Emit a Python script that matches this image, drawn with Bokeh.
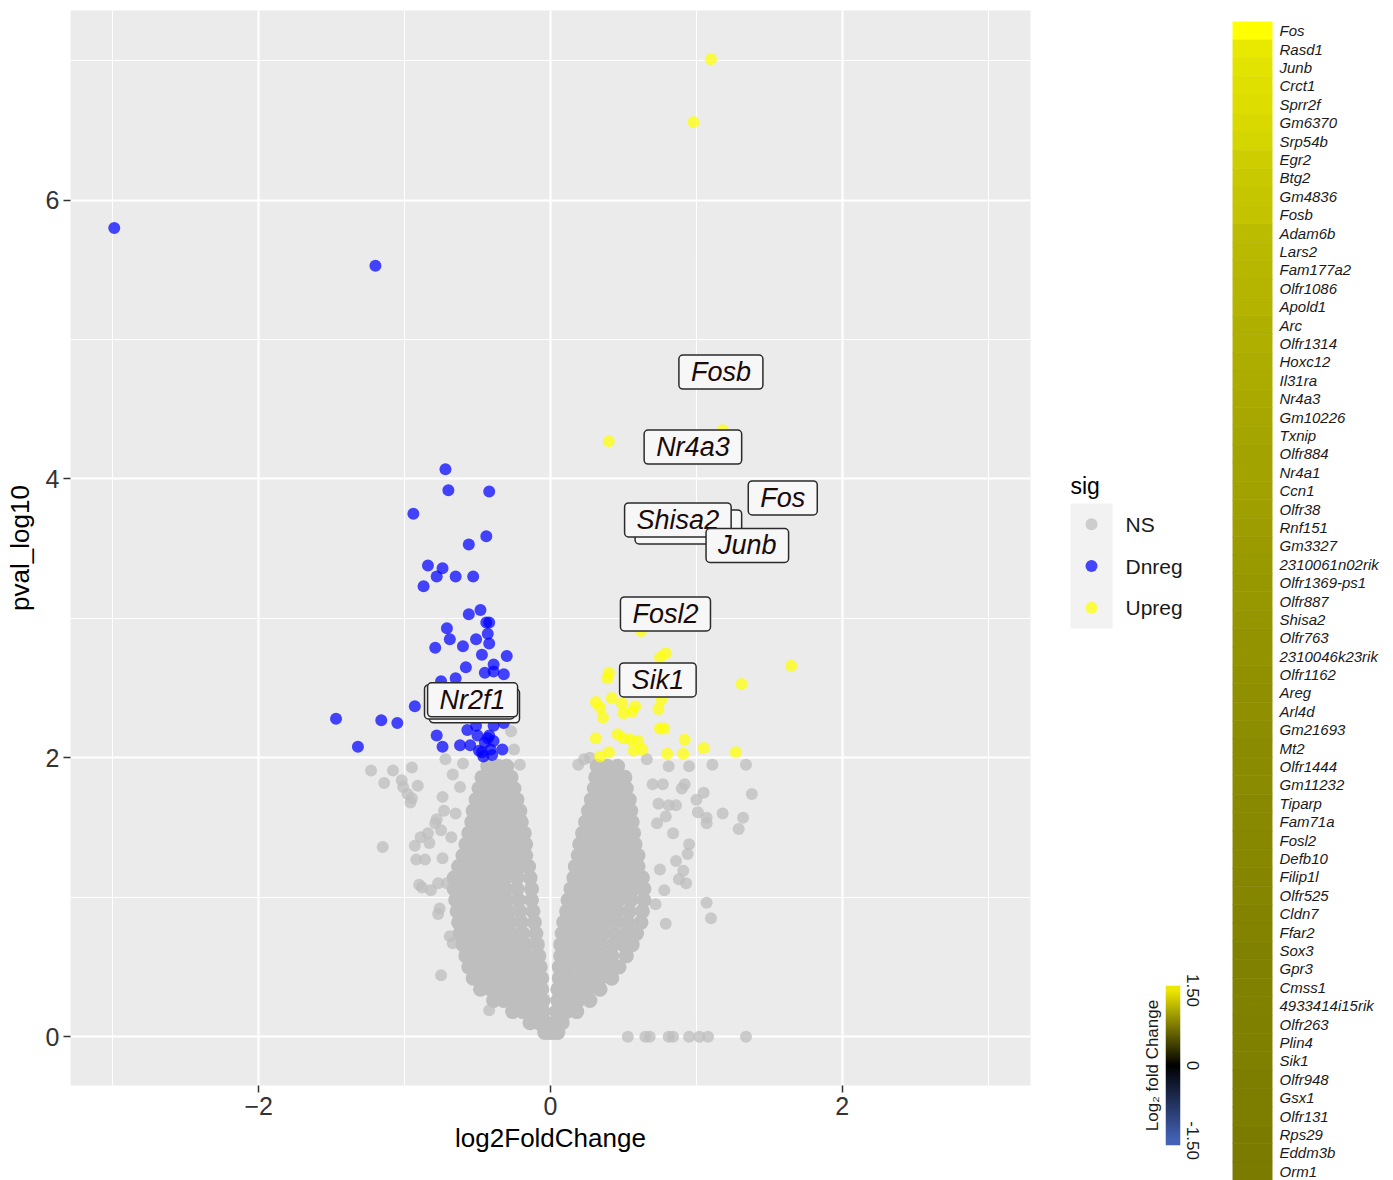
import numpy as np
from bokeh.plotting import figure
from bokeh.layouts import row, column
from bokeh.models import (Range1d, FactorRange, FixedTicker, Label, LinearColorMapper,
                          LinearAxis, ColumnDataSource)
from bokeh.transform import transform
from bokeh.embed import file_html
from bokeh.resources import INLINE

FONT = "Liberation Sans"

# ---------------- data ----------------
sig_levels = ["NS", "Dnreg", "Upreg"]
sig_colors = ["#BEBEBE", "#0000FF", "#FFFF00"]

dn_x = [-2.99, -1.20, -0.72, -0.70, -0.42, -0.94, -0.56, -0.44, -0.84, -0.74, -0.78, -0.65, -0.53, -0.87,
        -0.48, -0.56, -0.44, -0.42, -0.71, -0.43, -0.69, -0.51, -0.42, -0.79, -0.60, -0.47, -0.30, -0.58,
        -0.39, -0.45, -0.39, -0.32, -0.75, -0.65, -1.47, -1.16, -1.05, -1.32, -0.93, -0.78, -0.74, -0.62,
        -0.57, -0.55, -0.50, -0.43, -0.39, -0.33, -0.49, -0.46, -0.40, -0.45, -0.41, -0.47, -0.42, -0.51,
        -0.39, -0.32, -0.75, -0.62, -0.55]
dn_y = [5.80, 5.53, 4.07, 3.92, 3.91, 3.75, 3.53, 3.59, 3.38, 3.36, 3.30, 3.30, 3.30, 3.23,
        3.06, 3.03, 2.97, 2.97, 2.93, 2.89, 2.85, 2.85, 2.82, 2.79, 2.80, 2.74, 2.73, 2.65,
        2.67, 2.61, 2.62, 2.60, 2.55, 2.57, 2.28, 2.27, 2.25, 2.08, 2.37, 2.16, 2.08, 2.09,
        2.20, 2.09, 2.16, 2.14, 2.12, 2.06, 2.05, 2.01, 2.02, 2.11, 2.06, 2.04, 2.16, 2.23,
        2.23, 2.25, 2.32, 2.37, 2.48]

up_x = [1.10, 0.98, 0.40, 1.18, 1.65, 1.31, 0.79, 0.75, 0.40, 0.39, 0.42, 0.31, 0.34, 0.36, 0.49,
        0.50, 0.58, 0.56, 0.74, 0.76, 0.75, 0.78, 0.31, 0.46, 0.50, 0.55, 0.60, 0.57, 0.63, 0.34,
        0.40, 0.80, 0.92, 0.91, 1.05, 1.27, 0.62]
up_y = [7.01, 6.56, 4.27, 4.35, 2.66, 2.53, 2.75, 2.72, 2.61, 2.57, 2.43, 2.40, 2.36, 2.29, 2.39,
        2.32, 2.37, 2.33, 2.35, 2.42, 2.21, 2.21, 2.14, 2.17, 2.14, 2.13, 2.12, 2.05, 2.06, 2.01,
        2.04, 2.03, 2.13, 2.03, 2.07, 2.04, 2.91]

# scattered non-significant genes
ns_sparse_x = [-1.23, -1.08, -0.95, -1.14, -1.02, -1.01, -0.91, -0.98, -0.95, -0.96, -0.74, -0.72,
               -0.67, -0.62, -0.60, -0.73, -0.65, -0.78, -0.79, -0.84, -0.89, -0.75, -1.15, -0.93,
               -0.83, -0.68, -0.92, -0.86, -0.74, -0.90, -0.88, -0.82, -0.77, -0.71, -0.76, -0.77,
               -0.69, -0.67, -0.75, -0.42, -0.27, -0.25, -0.21,
               1.11, 1.34, 1.38, 1.32, 1.29, 1.18, 1.07, 1.07, 1.05, 1.00, 1.01, 0.95, 0.92, 0.90,
               0.81, 0.77, 0.70, 0.66, 0.95, 0.94, 0.91, 0.93, 1.07, 1.10, 0.79, 0.86, 0.88, 0.84,
               0.86, 0.81, 0.74, 0.79, 0.73, 0.19, 0.23, 0.27, 0.75, 0.78, 0.72,
               0.53, 0.65, 0.68, 0.81, 0.84, 0.95, 1.02, 1.08, 1.34]
ns_sparse_y = [1.91, 1.91, 1.93, 1.82, 1.84, 1.79, 1.80, 1.74, 1.71, 1.68, 1.72, 1.99,
               1.88, 1.79, 1.96, 1.62, 1.60, 1.56, 1.53, 1.46, 1.43, 1.48, 1.36, 1.37,
               1.39, 1.43, 1.27, 1.27, 1.28, 1.09, 1.07, 1.05, 1.10, 1.10, 0.92, 0.88,
               0.72, 0.67, 0.44, 0.19, 2.19, 2.06, 1.95,
               1.95, 1.95, 1.74, 1.57, 1.49, 1.60, 1.57, 1.53, 1.75, 1.70, 1.61, 1.94, 1.81, 1.78,
               1.94, 1.81, 1.81, 1.99, 1.38, 1.31, 1.19, 1.10, 0.96, 0.85, 0.81, 1.26, 1.13, 1.46,
               1.66, 1.66, 1.67, 1.58, 1.53, 1.95, 1.99, 2.00, 1.20, 1.05, 0.95,
               0.00, 0.00, 0.00, 0.00, 0.00, 0.00, 0.00, 0.00, 0.00]

# dense core of non-significant genes, read row by row (pval_log10 level -> log2FC values)
ns_core_y = [0.03, 0.10, 0.18, 0.26, 0.34, 0.42, 0.50, 0.58, 0.66, 0.74, 0.82, 0.90, 0.98,
             1.06, 1.14, 1.22, 1.30, 1.38, 1.46, 1.54, 1.62, 1.70, 1.78, 1.86, 1.94]
ns_core_x = [
    [-0.04, -0.01, 0.02, 0.05],
    [-0.14, -0.08, -0.03, 0.03, 0.08],
    [-0.26, -0.19, -0.12, -0.05, 0.04, 0.11, 0.18],
    [-0.39, -0.32, -0.25, -0.18, -0.11, -0.05, 0.05, 0.12, 0.19, 0.27],
    [-0.48, -0.41, -0.34, -0.27, -0.20, -0.13, -0.06, 0.05, 0.12, 0.19, 0.26, 0.34],
    [-0.53, -0.46, -0.39, -0.32, -0.25, -0.18, -0.11, -0.06, 0.06, 0.13, 0.20, 0.27, 0.34, 0.42],
    [-0.56, -0.49, -0.42, -0.35, -0.28, -0.21, -0.14, -0.07, 0.06, 0.13, 0.20, 0.27, 0.34, 0.41, 0.47],
    [-0.58, -0.51, -0.44, -0.37, -0.30, -0.23, -0.16, -0.08, 0.07, 0.14, 0.21, 0.28, 0.35, 0.42, 0.52],
    [-0.60, -0.53, -0.46, -0.39, -0.32, -0.25, -0.17, -0.09, 0.07, 0.14, 0.21, 0.28, 0.35, 0.43, 0.50, 0.56],
    [-0.62, -0.55, -0.48, -0.41, -0.34, -0.27, -0.19, -0.10, 0.08, 0.15, 0.22, 0.29, 0.36, 0.44, 0.52, 0.59],
    [-0.63, -0.56, -0.49, -0.42, -0.35, -0.28, -0.20, -0.11, 0.09, 0.16, 0.23, 0.30, 0.37, 0.45, 0.53, 0.62],
    [-0.64, -0.57, -0.50, -0.43, -0.36, -0.29, -0.21, -0.12, 0.11, 0.18, 0.25, 0.32, 0.39, 0.46, 0.54, 0.63],
    [-0.65, -0.58, -0.51, -0.44, -0.37, -0.30, -0.22, -0.13, 0.12, 0.19, 0.26, 0.33, 0.40, 0.47, 0.55, 0.64],
    [-0.66, -0.59, -0.52, -0.45, -0.38, -0.31, -0.23, -0.13, 0.14, 0.21, 0.28, 0.35, 0.42, 0.49, 0.57, 0.64],
    [-0.66, -0.59, -0.52, -0.45, -0.38, -0.31, -0.23, -0.14, 0.16, 0.23, 0.30, 0.37, 0.44, 0.51, 0.58, 0.63],
    [-0.63, -0.56, -0.49, -0.42, -0.35, -0.28, -0.21, -0.15, 0.17, 0.24, 0.31, 0.38, 0.45, 0.52, 0.60],
    [-0.60, -0.53, -0.46, -0.39, -0.32, -0.25, -0.17, 0.19, 0.26, 0.33, 0.40, 0.47, 0.54, 0.60],
    [-0.58, -0.51, -0.44, -0.37, -0.30, -0.23, -0.17, 0.20, 0.27, 0.34, 0.41, 0.48, 0.54, 0.58],
    [-0.56, -0.49, -0.42, -0.35, -0.28, -0.21, -0.18, 0.22, 0.29, 0.36, 0.43, 0.50, 0.57],
    [-0.54, -0.47, -0.40, -0.33, -0.26, -0.20, 0.24, 0.31, 0.38, 0.45, 0.52, 0.56],
    [-0.53, -0.46, -0.39, -0.32, -0.25, -0.21, 0.26, 0.33, 0.40, 0.47, 0.55],
    [-0.51, -0.44, -0.37, -0.30, -0.23, 0.28, 0.35, 0.42, 0.49, 0.54],
    [-0.49, -0.42, -0.35, -0.28, -0.25, 0.30, 0.37, 0.44, 0.52],
    [-0.47, -0.40, -0.33, -0.27, 0.31, 0.38, 0.45, 0.51],
    [-0.43, -0.36, -0.30, 0.32, 0.39, 0.46],
]

# repelled gene labels (some genes labelled more than once)
label_gene = ["Fosb", "Nr4a3", "Fos", "Shisa2", "Shisa2", "Junb", "Fosl2", "Sik1", "Nr2f1", "Nr2f1", "Nr2f1"]
label_x = [1.168, 0.976, 1.592, 0.945, 0.873, 1.349, 0.788, 0.736, -0.521, -0.555, -0.534]
label_y = [4.767, 4.229, 3.864, 3.656, 3.706, 3.523, 3.032, 2.559, 2.373, 2.401, 2.416]

heat_genes = ["Fos", "Rasd1", "Junb", "Crct1", "Sprr2f", "Gm6370", "Srp54b", "Egr2", "Btg2", "Gm4836",
              "Fosb", "Adam6b", "Lars2", "Fam177a2", "Olfr1086", "Apold1", "Arc", "Olfr1314", "Hoxc12",
              "Il31ra", "Nr4a3", "Gm10226", "Txnip", "Olfr884", "Nr4a1", "Ccn1", "Olfr38", "Rnf151",
              "Gm3327", "2310061n02rik", "Olfr1369-ps1", "Olfr887", "Shisa2", "Olfr763", "2310046k23rik",
              "Olfr1162", "Areg", "Arl4d", "Gm21693", "Mt2", "Olfr1444", "Gm11232", "Tiparp", "Fam71a",
              "Fosl2", "Defb10", "Filip1l", "Olfr525", "Cldn7", "Ffar2", "Sox3", "Gpr3", "Cmss1",
              "4933414i15rik", "Olfr263", "Plin4", "Sik1", "Olfr948", "Gsx1", "Olfr131", "Rps29",
              "Eddm3b", "Orm1"]
heat_lfc = [1.62, 1.36, 1.33, 1.31, 1.29, 1.27, 1.25, 1.20, 1.18, 1.16,
            1.14, 1.10, 1.08, 1.07, 1.06, 1.05, 1.03, 1.02, 1.01,
            1.00, 0.99, 0.98, 0.97, 0.96, 0.95, 0.94, 0.93, 0.92,
            0.91, 0.90, 0.89, 0.88, 0.87, 0.86, 0.86,
            0.85, 0.84, 0.84, 0.83, 0.82, 0.82, 0.81, 0.80, 0.80,
            0.79, 0.79, 0.78, 0.78, 0.77, 0.77, 0.76, 0.76, 0.75,
            0.75, 0.74, 0.74, 0.74, 0.73, 0.73, 0.73, 0.72,
            0.72, 0.72]

cb_ticks = [-1.5, 0.0, 1.5]
cb_tick_text = ["-1.50", "0", "1.50"]

# ---------------- palette ----------------
def _hex(c):
    c = c.lstrip("#")
    return [int(c[i:i + 2], 16) for i in (0, 2, 4)]

def _ramp(stops, n=256):
    cols = []
    segs = len(stops) - 1
    for i in range(n):
        t = i / (n - 1) * segs
        k = min(int(t), segs - 1)
        f = t - k
        a, b = _hex(stops[k]), _hex(stops[k + 1])
        cols.append("#%02x%02x%02x" % tuple(int(round(a[j] + (b[j] - a[j]) * f)) for j in range(3)))
    return cols

palette = _ramp(["#4262b5", "#000000", "#ffff00"])
mapper = LinearColorMapper(palette=palette, low=-1.5, high=1.5)
cb_palette = _ramp(["#4262b5", "#000000", "#ece600"])
cb_mapper = LinearColorMapper(palette=cb_palette, low=-1.5, high=1.5)

# ---------------- main volcano plot ----------------
p = figure(width=1060, height=1180, x_range=Range1d(-3.29, 3.29), y_range=Range1d(-0.35, 7.36),
           output_backend="svg", toolbar_location=None,
           min_border_left=70, min_border_right=30, min_border_top=10, min_border_bottom=95)
p.background_fill_color = "#EBEBEB"
p.border_fill_color = "white"
p.outline_line_color = None

p.xaxis.ticker = FixedTicker(ticks=[-2, 0, 2], minor_ticks=[-3, -1, 1, 3])
p.yaxis.ticker = FixedTicker(ticks=[0, 2, 4, 6], minor_ticks=[1, 3, 5, 7])
p.xaxis.major_label_overrides = {-2: "\u22122", 0: "0", 2: "2"}
p.grid.grid_line_color = "white"
p.grid.grid_line_width = 2.2
p.grid.minor_grid_line_color = "white"
p.grid.minor_grid_line_width = 1.1
p.axis.axis_line_color = None
p.axis.minor_tick_line_color = None
p.axis.major_tick_line_color = "#333333"
p.axis.major_tick_line_width = 1.5
p.axis.major_tick_out = 7
p.axis.major_tick_in = 0
p.axis.major_label_text_font = FONT
p.axis.major_label_text_font_size = "25px"
p.axis.major_label_text_color = "#333333"
p.axis.major_label_standoff = 4
p.axis.axis_label_text_font = FONT
p.axis.axis_label_text_font_size = "26px"
p.axis.axis_label_text_font_style = "normal"
p.axis.axis_label_text_color = "black"
p.xaxis.axis_label = "log2FoldChange"
p.yaxis.axis_label = "pval_log10"
p.xaxis.axis_label_standoff = 5
p.yaxis.axis_label_standoff = 8

core_x, core_y = [], []
for yy, xs in zip(ns_core_y, ns_core_x):
    core_x.extend(xs)
    core_y.extend([yy] * len(xs))

p.scatter(core_x, core_y, size=15, fill_color=sig_colors[0], line_color=None, fill_alpha=1.0)
p.scatter(ns_sparse_x, ns_sparse_y, size=12, fill_color=sig_colors[0], line_color=None, fill_alpha=0.75)
p.scatter(dn_x, dn_y, size=12, fill_color=sig_colors[1], line_color=None, fill_alpha=0.72)
p.scatter(up_x, up_y, size=12, fill_color=sig_colors[2], line_color=None, fill_alpha=0.72)

for g, lx, ly in zip(label_gene, label_x, label_y):
    p.add_layout(Label(x=lx, y=ly, text=g, text_font=FONT, text_font_style="italic",
                       text_font_size="27px", text_color="#1a0a0a", text_align="center",
                       text_baseline="middle", background_fill_color="#f7f7f7",
                       background_fill_alpha=1.0, border_line_color="#2b2b2b",
                       border_line_width=1.5, padding=dict(left=12, right=12, top=2, bottom=2),
                       border_radius=4))

# ---------------- legend panel ----------------
pl = figure(width=170, height=660, x_range=Range1d(-1, 1),
            y_range=FactorRange(factors=list(reversed(sig_levels))),
            x_axis_location=None, y_axis_location="right", title="sig",
            output_backend="svg", toolbar_location=None,
            min_border_left=10, min_border_right=118, min_border_top=503, min_border_bottom=32)
pl.background_fill_color = "#F2F2F2"
pl.outline_line_color = None
pl.grid.visible = False
pl.scatter(x=[0, 0, 0], y=sig_levels, fill_color=sig_colors, line_color=None, size=12, fill_alpha=0.72)
pl.yaxis.axis_line_color = None
pl.yaxis.major_tick_line_color = None
pl.yaxis.major_label_text_font = FONT
pl.yaxis.major_label_text_font_size = "21px"
pl.yaxis.major_label_text_color = "#1a1a1a"
pl.yaxis.major_label_standoff = 7
pl.title.text_font = FONT
pl.title.text_font_size = "23px"
pl.title.text_font_style = "normal"
pl.title.text_color = "black"

# ---------------- colour bar panel ----------------
pc = figure(width=170, height=520, x_range=Range1d(-0.5, 0.5), y_range=Range1d(-1.6, 1.6),
            x_axis_location=None, y_axis_location="right",
            output_backend="svg", toolbar_location=None,
            min_border_left=105, min_border_right=50, min_border_top=325, min_border_bottom=35)
pc.outline_line_color = None
pc.grid.visible = False
grad = np.linspace(-1.6, 1.6, 320).reshape(320, 1)
pc.image(image=[grad], x=-0.5, y=-1.6, dw=1, dh=3.2, color_mapper=cb_mapper)
pc.yaxis.ticker = FixedTicker(ticks=cb_ticks)
pc.yaxis.major_label_overrides = {t: s for t, s in zip(cb_ticks, cb_tick_text)}
pc.yaxis.major_label_orientation = "vertical"
pc.yaxis.axis_line_color = None
pc.yaxis.major_tick_line_color = None
pc.yaxis.minor_tick_line_color = None
pc.yaxis.major_label_text_font = FONT
pc.yaxis.major_label_text_font_size = "17px"
pc.yaxis.major_label_text_color = "#1a1a1a"
pc.yaxis.major_label_standoff = 0
pc.add_layout(LinearAxis(axis_label="Log\u2082 fold Change", ticker=FixedTicker(ticks=[]),
                         major_label_text_font_size="0px", major_tick_line_color=None,
                         minor_tick_line_color=None, axis_line_color=None,
                         axis_label_standoff=4, axis_label_text_font=FONT,
                         axis_label_text_font_size="17px", axis_label_text_font_style="normal",
                         axis_label_text_color="#1a1a1a"), "left")

# ---------------- heatmap strip ----------------
hsrc = ColumnDataSource(dict(gene=heat_genes, lfc=heat_lfc))
ph = figure(width=163, height=1180, x_range=Range1d(0, 1),
            y_range=FactorRange(factors=list(reversed(heat_genes))),
            x_axis_location=None, y_axis_location="right",
            output_backend="svg", toolbar_location=None,
            min_border_left=2, min_border_right=121, min_border_top=21, min_border_bottom=0)
ph.outline_line_color = None
ph.grid.visible = False
ph.rect(x=0.5, y="gene", width=1, height=1, source=hsrc,
        fill_color=transform("lfc", mapper), line_color=transform("lfc", mapper), line_width=0.6)
ph.yaxis.axis_line_color = None
ph.yaxis.major_tick_line_color = None
ph.yaxis.major_label_text_font = FONT
ph.yaxis.major_label_text_font_size = "15px"
ph.yaxis.major_label_text_font_style = "italic"
ph.yaxis.major_label_text_color = "#1a1a1a"
ph.yaxis.major_label_standoff = 1

# each figure wrapped on its own so that the layout does not align their frames
layout = row(column(p), column(column(pl), column(pc)), column(ph))
open("out.html", "w").write(file_html(layout, INLINE))
